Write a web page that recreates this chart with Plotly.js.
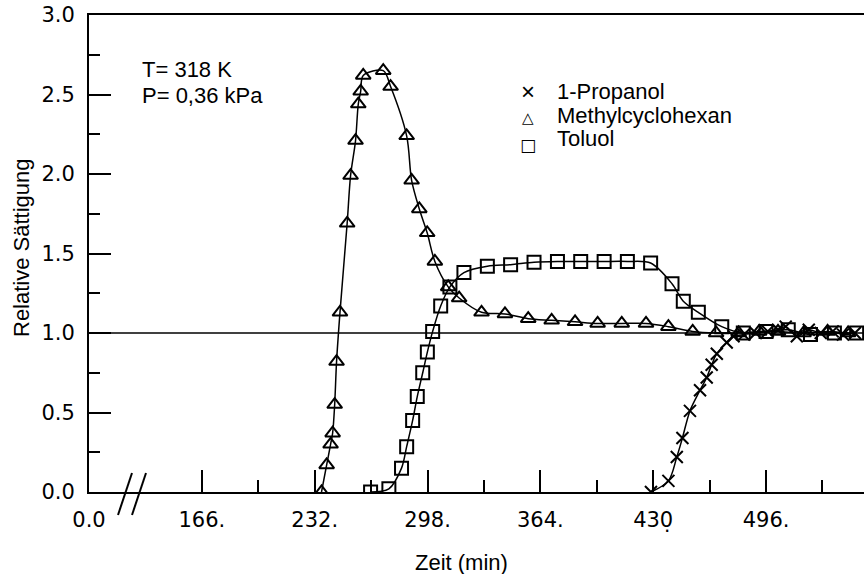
<!DOCTYPE html>
<html>
<head>
<meta charset="utf-8">
<script src="https://cdn.plot.ly/plotly-3.0.1.min.js"></script>
<style>
  html, body { margin: 0; padding: 0; background: #fff; }
  #chart { width: 864px; height: 574px; }
</style>
</head>
<body>
<div id="chart"></div>
<script>
// Time axis (min); the first tick stands for a broken axis start
const tickValues = [100, 166, 232, 298, 364, 430, 496];
const tickLabels = ["0.0", "166.", "232.", "298.", "364.", "430", "496."];
const minorTicks = [199, 265, 331, 397, 463, 529];

const yTickValues = [0, 0.5, 1, 1.5, 2, 2.5, 3];
const yTickLabels = ["0.0", "0.5", "1.0", "1.5", "2.0", "2.5", "3.0"];
const yMinorTicks = [0.25, 0.75, 1.25, 1.75, 2.25, 2.75];

// Methylcyclohexan
const mchTime = [236.0, 239.0, 241.3, 242.5, 243.7, 244.8, 246.8, 251.0, 253.0, 255.9, 257.5, 258.9, 260.4,
                 272.1, 276.4, 285.8, 288.7, 293.2, 297.8, 302.3, 310.1, 316.5, 329.6, 343.3, 356.9, 370.6,
                 384.3, 397.5, 411.6, 425.8, 438.9, 453.1, 466.8, 480.0, 492.0, 503.0, 518.0, 532.0, 544.0];
const mchSat  = [0.00, 0.17, 0.30, 0.37, 0.55, 0.82, 1.13, 1.69, 1.99, 2.21, 2.44, 2.52, 2.62,
                 2.65, 2.55, 2.24, 1.96, 1.78, 1.63, 1.45, 1.29, 1.22, 1.13, 1.12, 1.09, 1.08,
                 1.07, 1.06, 1.06, 1.06, 1.04, 1.01, 1.00, 1.00, 1.01, 1.01, 1.00, 1.01, 1.00];

// Toluol
const tolTime = [264.7, 275.4, 282.8, 285.8, 289.3, 292.0, 295.2, 297.9, 301.0, 305.7, 311.1, 319.3, 333.0,
                 346.6, 360.3, 374.0, 387.6, 401.3, 414.9, 428.5, 441.0, 447.6, 456.4, 470.1, 482.7,
                 496.0, 509.0, 522.0, 536.0, 549.0];
const tolSat  = [0.00, 0.02, 0.15, 0.285, 0.45, 0.60, 0.75, 0.88, 1.01, 1.17, 1.29, 1.38, 1.42,
                 1.43, 1.445, 1.45, 1.45, 1.45, 1.45, 1.44, 1.31, 1.20, 1.13, 1.04, 1.00,
                 1.01, 1.02, 0.99, 1.00, 1.00];

// 1-Propanol
const propTime = [428.7, 438.9, 443.8, 447.1, 451.5, 457.4, 461.3, 464.2, 467.2, 473.0, 477.0, 483.0,
                  490.0, 497.0, 503.0, 507.5, 514.0, 521.0, 528.0, 535.0, 541.0, 548.0];
const propSat  = [0.00, 0.07, 0.22, 0.34, 0.51, 0.64, 0.72, 0.80, 0.87, 0.94, 0.98, 0.99,
                  1.00, 1.01, 1.02, 1.04, 0.98, 1.02, 1.00, 1.01, 0.99, 1.00];

const ink = "#000";

function series(name, x, y, symbol, size) {
  return {
    type: "scatter", mode: "lines+markers", name: name, x: x, y: y,
    line: { color: ink, width: 1.5, shape: "spline", smoothing: 0.9 },
    marker: { symbol: symbol, size: size, color: ink, line: { color: ink, width: 2 } },
    showlegend: false
  };
}

const traces = [
  series("Methylcyclohexan", mchTime, mchSat, "triangle-up-open", 13),
  series("Toluol", tolTime, tolSat, "square-open", 13),
  series("1-Propanol", propTime, propSat, "x-thin-open", 12)
];

// pixel helpers for the frame (plot area 89..864 x 15..492)
const px = v => (v - 89) / 775;
const py = v => (492 - v) / 477;

const txt = { family: "Liberation Sans, Arial, sans-serif", size: 22, color: ink };

const annotations = [
  { text: "T= 318 K", x: px(140), y: py(69.5), xanchor: "left", yanchor: "middle" },
  { text: "P= 0,36 kPa", x: px(140), y: py(95), xanchor: "left", yanchor: "middle" },
  { text: "1-Propanol", x: px(555), y: py(91.7), xanchor: "left", yanchor: "middle" },
  { text: "Methylcyclohexan", x: px(555), y: py(115), xanchor: "left", yanchor: "middle" },
  { text: "Toluol", x: px(555), y: py(138), xanchor: "left", yanchor: "middle" },
  { text: "×", x: px(528), y: py(91), xanchor: "center", yanchor: "middle", font: { family: "Liberation Sans", size: 24, color: ink } },
  { text: "△", x: px(528), y: py(117.5), xanchor: "center", yanchor: "middle", font: { family: "DejaVu Sans", size: 15, color: ink } },
  { text: "□", x: px(528), y: py(144.7), xanchor: "center", yanchor: "middle", font: { family: "DejaVu Sans", size: 17, color: ink } },
  { text: "Zeit (min)", x: px(461.5), y: py(562), xanchor: "center", yanchor: "middle" },
  { text: "Relative Sättigung", x: px(22), y: py(248), xanchor: "center", yanchor: "middle", textangle: -90 },
  { text: ".", x: px(666.7), y: py(539), xanchor: "center", yanchor: "bottom", font: { family: "DejaVu Sans", size: 20, color: ink } }
].map(a => Object.assign({ xref: "paper", yref: "paper", showarrow: false, font: txt }, a));

const shapes = [
  // reference level 1.0
  { type: "line", xref: "paper", yref: "y", x0: 0, x1: 1, y0: 1, y1: 1, line: { color: ink, width: 1.5 } },
  // axis break marks
  { type: "line", xref: "paper", yref: "paper", x0: px(118), x1: px(132), y0: py(515), y1: py(473), line: { color: ink, width: 2 } },
  { type: "line", xref: "paper", yref: "paper", x0: px(132), x1: px(146), y0: py(515), y1: py(473), line: { color: ink, width: 2 } }
];

const tickFont = { family: "DejaVu Sans, sans-serif", size: 21, color: ink };

const layout = {
  width: 864, height: 574,
  margin: { l: 89, r: 0, t: 15, b: 82 },
  paper_bgcolor: "#fff", plot_bgcolor: "#fff",
  showlegend: false,
  xaxis: {
    range: [100, 553.3], showgrid: false, zeroline: false,
    showline: true, linecolor: ink, linewidth: 2, mirror: true,
    tickmode: "array", tickvals: tickValues, ticktext: tickLabels,
    ticks: "inside", ticklen: 22, tickwidth: 2, tickcolor: ink,
    tickfont: tickFont, ticklabelstandoff: 8,
    minor: { tickmode: "array", tickvals: minorTicks, ticks: "inside", ticklen: 12, tickwidth: 2, tickcolor: ink, showgrid: false }
  },
  yaxis: {
    range: [0, 3], showgrid: false, zeroline: false,
    showline: true, linecolor: ink, linewidth: 2,
    tickmode: "array", tickvals: yTickValues, ticktext: yTickLabels,
    ticks: "inside", ticklen: 22, tickwidth: 2, tickcolor: ink,
    tickfont: tickFont, ticklabelstandoff: 8,
    minor: { tickmode: "array", tickvals: yMinorTicks, ticks: "inside", ticklen: 11, tickwidth: 2, tickcolor: ink, showgrid: false }
  },
  annotations: annotations,
  shapes: shapes
};

Plotly.newPlot("chart", traces, layout, { displayModeBar: false, staticPlot: true });
</script>
</body>
</html>
